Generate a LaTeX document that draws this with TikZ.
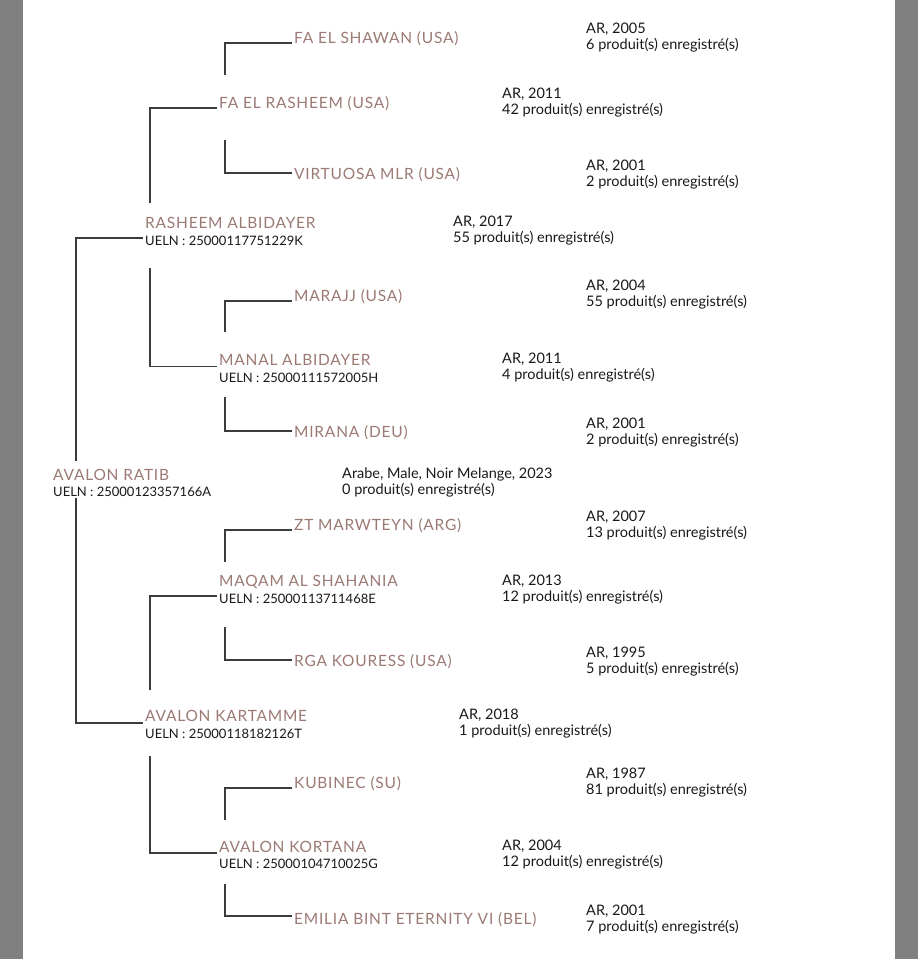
\documentclass[tikz,border=0pt]{standalone}
\usepackage{fontspec}
\setmainfont{Lato}
\newfontfamily\namefont[LetterSpace=5]{Lato}
\usetikzlibrary{calc}
\definecolor{namecol}{RGB}{156,122,116}
\definecolor{linecol}{RGB}{60,60,60}
\definecolor{infocol}{RGB}{25,25,25}
\definecolor{sidegray}{RGB}{128,128,128}
\newcommand{\horseinfo}[5]{%
  \node[info] (#1a) at (#2,#3) {#4};
  \node[info] (#1b) at (#2,#3+16) {#5};}
\begin{document}
\begin{tikzpicture}[x=1pt,y=-1pt,
 horse/.style={anchor=base west, inner xsep=2pt, inner ysep=0pt, text=namecol, font=\namefont\fontsize{15.5}{18}\selectfont},
 ueln/.style={anchor=base west, inner xsep=2pt, inner ysep=0pt, text=infocol, font=\fontsize{13}{15}\selectfont},
 info/.style={anchor=base west, inner sep=0pt, text=infocol, font=\fontsize{14.5}{16}\selectfont},
 conn/.style={draw=linecol, line width=1.3pt}]
\useasboundingbox (0,0) rectangle (918,959);
\fill[white] (0,0) rectangle (918,959);
\fill[sidegray] (0,0) rectangle (23,959);
\fill[sidegray] (895,0) rectangle (918,959);

% generation 3
\node[horse] (shawan) at (292,43) {FA EL SHAWAN (USA)};
\node[horse] (virtuosa) at (292,179) {VIRTUOSA MLR (USA)};
\node[horse] (marajj) at (292,301) {MARAJJ (USA)};
\node[horse] (mirana) at (292,437) {MIRANA (DEU)};
\node[horse] (marwteyn) at (292,530) {ZT MARWTEYN (ARG)};
\node[horse] (kouress) at (292,666) {RGA KOURESS (USA)};
\node[horse] (kubinec) at (292,788) {KUBINEC (SU)};
\node[horse] (emilia) at (292,924) {EMILIA BINT ETERNITY VI (BEL)};
\horseinfo{ishawan}{586}{33}{AR, 2005}{6 produit(s) enregistré(s)}
\horseinfo{ivirtuosa}{586}{170}{AR, 2001}{2 produit(s) enregistré(s)}
\horseinfo{imarajj}{586}{290}{AR, 2004}{55 produit(s) enregistré(s)}
\horseinfo{imirana}{586}{428}{AR, 2001}{2 produit(s) enregistré(s)}
\horseinfo{imarwteyn}{586}{521}{AR, 2007}{13 produit(s) enregistré(s)}
\horseinfo{ikouress}{586}{657}{AR, 1995}{5 produit(s) enregistré(s)}
\horseinfo{ikubinec}{586}{778}{AR, 1987}{81 produit(s) enregistré(s)}
\horseinfo{iemilia}{586}{915}{AR, 2001}{7 produit(s) enregistré(s)}

% generation 2
\node[horse] (faelrasheem) at (217,108) {FA EL RASHEEM (USA)};
\node[horse] (manal) at (217,365) {MANAL ALBIDAYER};
\node[ueln] (manalU) at (217,382) {UELN : 25000111572005H};
\node[horse] (maqam) at (217,586) {MAQAM AL SHAHANIA};
\node[ueln] (maqamU) at (217,603) {UELN : 25000113711468E};
\node[horse] (kortana) at (217,852) {AVALON KORTANA};
\node[ueln] (kortanaU) at (217,868) {UELN : 25000104710025G};
\horseinfo{ifaelrasheem}{502}{98}{AR, 2011}{42 produit(s) enregistré(s)}
\horseinfo{imanal}{502}{363}{AR, 2011}{4 produit(s) enregistré(s)}
\horseinfo{imaqam}{502}{585}{AR, 2013}{12 produit(s) enregistré(s)}
\horseinfo{ikortana}{502}{850}{AR, 2004}{12 produit(s) enregistré(s)}

% generation 1
\node[horse] (rasheem) at (143,228) {RASHEEM ALBIDAYER};
\node[ueln] (rasheemU) at (143,245) {UELN : 25000117751229K};
\node[horse] (kartamme) at (143,721) {AVALON KARTAMME};
\node[ueln] (kartammeU) at (143,738) {UELN : 25000118182126T};
\horseinfo{irasheem}{453}{226}{AR, 2017}{55 produit(s) enregistré(s)}
\horseinfo{ikartamme}{459}{719}{AR, 2018}{1 produit(s) enregistré(s)}

% root
\node[horse] (ratib) at (51,480) {AVALON RATIB};
\node[ueln] (ratibU) at (51,496) {UELN : 25000123357166A};
\horseinfo{iratib}{342}{478}{Arabe, Male, Noir Melange, 2023}{0 produit(s) enregistré(s)}

% connector start points
\coordinate (rootUp) at (76,461);
\coordinate (rootDn) at (76,498);
\coordinate (rasUp) at (150,203);
\coordinate (rasDn) at (150,268);
\coordinate (karUp) at (150,690);
\coordinate (karDn) at (150,756);
\coordinate (faeUp) at (225,75);
\coordinate (faeDn) at (225,140);
\coordinate (manUp) at (225,332);
\coordinate (manDn) at (225,397);
\coordinate (maqUp) at (225,562);
\coordinate (maqDn) at (225,627);
\coordinate (korUp) at (225,820);
\coordinate (korDn) at (225,884);

\draw[conn] (rootUp) |- ([yshift=-2.5pt]rasheemU.north west);
\draw[conn] (rootDn) |- ([yshift=-2pt]kartamme.base west);
\draw[conn] (rasUp) |- (faelrasheem.base west);
\draw[conn] (rasDn) |- ([yshift=-1.5pt]manal.base west);
\draw[conn] (karUp) |- ([yshift=-2.5pt]maqamU.north west);
\draw[conn] (karDn) |- ([yshift=-1pt]kortana.base west);
\draw[conn] (faeUp) |- (shawan.base west);
\draw[conn] (faeDn) |- ([yshift=6pt]virtuosa.base west);
\draw[conn] (manUp) |- (marajj.base west);
\draw[conn] (manDn) |- ([yshift=6pt]mirana.base west);
\draw[conn] (maqUp) |- (marwteyn.base west);
\draw[conn] (maqDn) |- ([yshift=6pt]kouress.base west);
\draw[conn] (korUp) |- (kubinec.base west);
\draw[conn] (korDn) |- ([yshift=8pt]emilia.base west);
\end{tikzpicture}
\end{document}
